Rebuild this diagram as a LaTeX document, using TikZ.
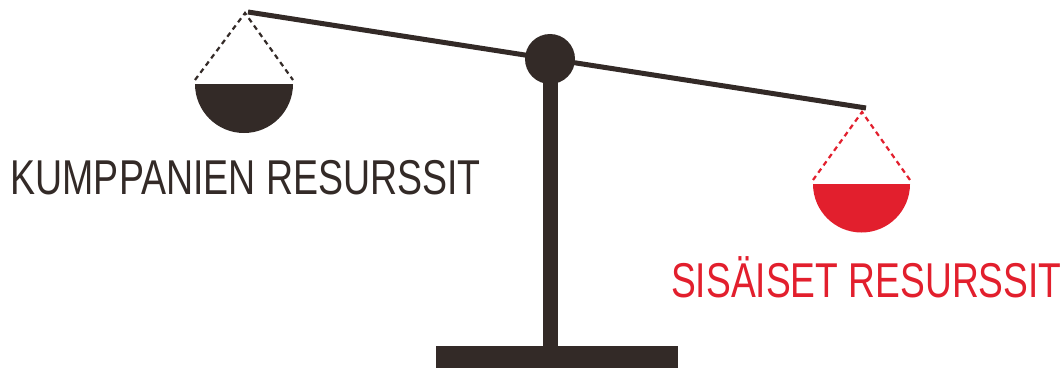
\documentclass[tikz,border=0pt]{standalone}
\usepackage{fontspec}
\setmainfont{Liberation Sans}
\definecolor{dark}{RGB}{51,42,39}
\definecolor{brandred}{RGB}{226,31,45}
\tikzset{
  beamline/.style={draw=dark, line width=5pt},
  cord/.style={line width=2.2pt, dash pattern=on 5pt off 4pt},
  label/.style={anchor=base west, inner sep=0pt,
    font=\fontsize{48.9}{50}\selectfont},
}
\begin{document}
\begin{tikzpicture}[x=1pt,y=-1pt]
\useasboundingbox (0,0) rectangle (1062,369);
% named points
\coordinate (beamL) at (248,12);
\coordinate (beamR) at (866,108);
\coordinate (pivot) at (550,59);
\coordinate (apexL) at (245,13);
\coordinate (apexR) at (862,112);
\coordinate (rimLl) at (195,80);
\coordinate (rimLr) at (293,80);
\coordinate (rimRl) at (813,180);
\coordinate (rimRr) at (910,180);
% stand
\fill[dark] (436,346) rectangle (678,368);
\fill[dark] (543,59) rectangle (558,347);
% beam
\draw[beamline] (beamL) -- (beamR);
\node[circle, fill=dark, minimum size=50pt, inner sep=0pt] (hub) at (pivot) {};
% left pan
\draw[cord, dark] (rimLl) -- (apexL) -- (rimLr);
\fill[dark] (195,84) arc[start angle=180, end angle=360, radius=49pt] -- cycle;
% right pan
\draw[cord, brandred] (rimRl) -- (apexR) -- (rimRr);
\fill[brandred] (813,184) arc[start angle=180, end angle=360, radius=48.5pt] -- cycle;
% labels
\node[label, text=dark, xscale=0.767] (kump) at (10.5,194) {KUMPPANIEN RESURSSIT};
\node[label, text=brandred, xscale=0.760] (sis) at (671,297) {SISÄISET RESURSSIT};
\end{tikzpicture}
\end{document}
